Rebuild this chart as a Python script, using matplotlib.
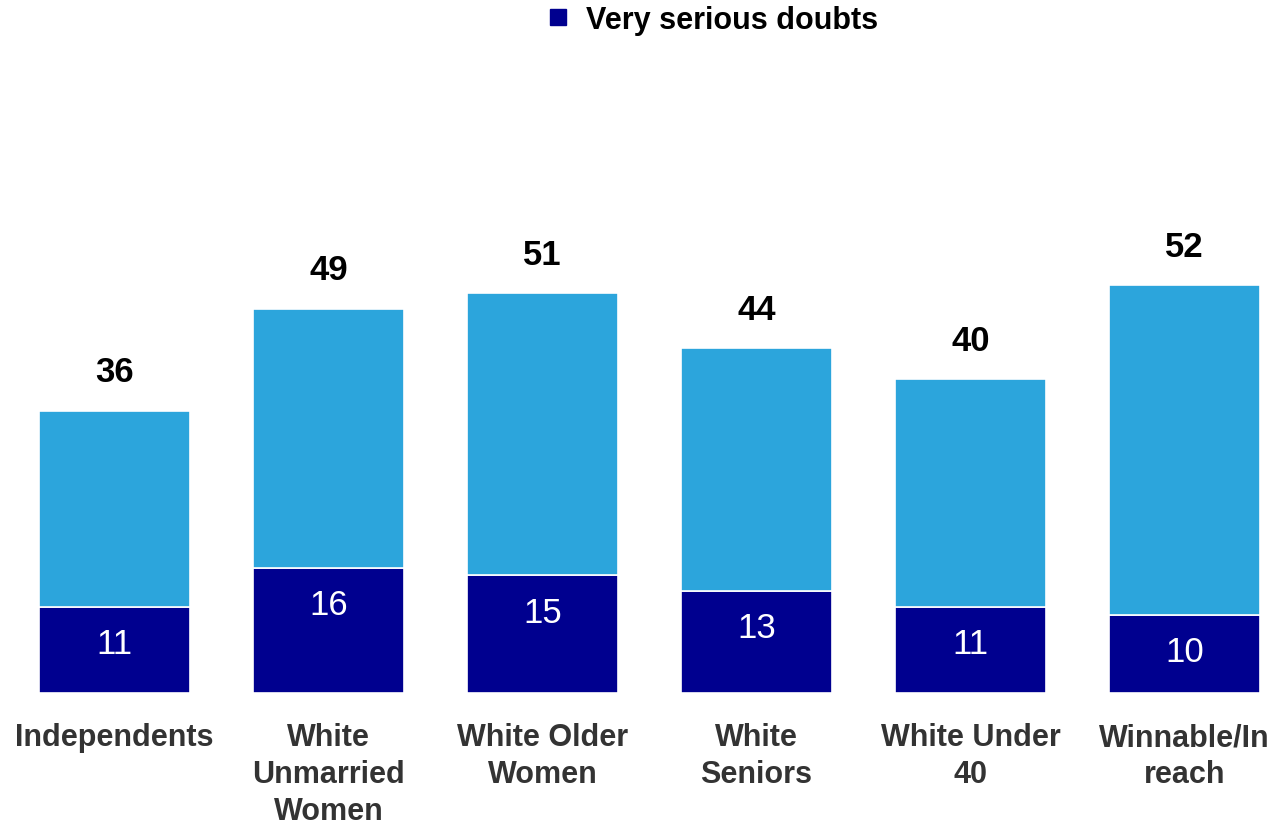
#! /usr/bin/env python3
# -*- coding: utf-8 -*-

import matplotlib
matplotlib.use("Agg")
import matplotlib.pyplot as plt
from matplotlib.lines import Line2D

## Data

groups = ["Independents", "White\nUnmarried\nWomen", "White Older\nWomen",
          "White\nSeniors", "White Under\n40", "Winnable/In\nreach"]
very_serious = [11, 16, 15, 13, 11, 10]
totals = [36, 49, 51, 44, 40, 52]

NAVY = "#00008F"
LIGHT = "#2CA5DC"

## Plot

plt.rcParams['font.family'] = ['Liberation Sans', 'DejaVu Sans']

fig = plt.figure(figsize=(12.8, 8.29), dpi=100)
ax = fig.add_axes([0.0, 0.1629, 1.0, 0.7888])

x = list(range(len(groups)))
rest = [t - v for t, v in zip(totals, very_serious)]

ax.bar(x, very_serious, width=0.706, color=NAVY, edgecolor="white", linewidth=1.2)
ax.bar(x, rest, bottom=very_serious, width=0.706, color=LIGHT, edgecolor="white", linewidth=1.2)

for i in x:
    ax.annotate(str(very_serious[i]), (i, very_serious[i]), xytext=(0, -26.5),
                textcoords="offset points", ha="center", va="center",
                color="white", fontsize=25)
    ax.annotate(str(totals[i]), (i, totals[i]), xytext=(0, 28),
                textcoords="offset points", ha="center", va="center",
                color="black", fontsize=25, fontweight="bold")

ax.set_xlim(-0.535, 5.446)
ax.set_ylim(0, 83.4)
ax.set_xticks(x)
ax.set_xticklabels(groups, fontsize=22, fontweight="bold", color="#333333",
                   linespacing=1.3)
ax.tick_params(axis="x", length=0, pad=21)
ax.set_yticks([])
for s in ax.spines.values():
    s.set_visible(False)

handle = Line2D([], [], marker="s", linestyle="none", markersize=11,
                markerfacecolor=NAVY, markeredgecolor=NAVY)
fig.legend([handle], ["Very serious doubts"], loc="center",
           bbox_to_anchor=(0.549, 0.975), frameon=False,
           prop={"size": 22, "weight": "bold"}, handletextpad=-0.1,
           borderaxespad=0)

fig.savefig("out.png", dpi=100)
